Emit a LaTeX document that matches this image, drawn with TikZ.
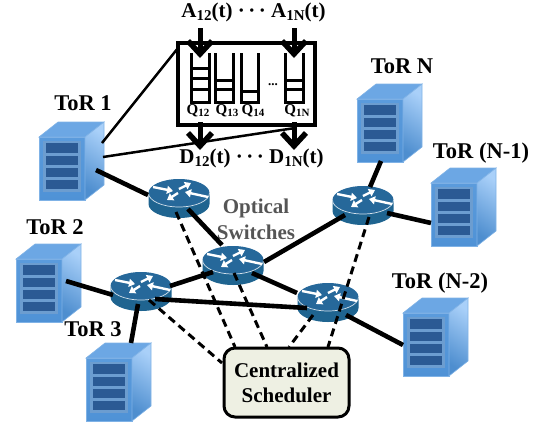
\documentclass[tikz,border=0pt]{standalone}
\usepackage{fontspec}
\setmainfont{Liberation Serif}
\usetikzlibrary{arrows.meta}
\definecolor{srvfront}{HTML}{5B9BDC}
\definecolor{srvfrontb}{HTML}{4F92D6}
\definecolor{srvtop}{HTML}{6CA7E4}
\definecolor{srvsidea}{HTML}{A9D0F9}
\definecolor{srvsideb}{HTML}{4E8ECF}
\definecolor{srvedge}{HTML}{7FB2E6}
\definecolor{srvpanel}{HTML}{6C9DD0}
\definecolor{srvslot}{HTML}{2B5A94}
\definecolor{rtrtop}{HTML}{26689A}
\definecolor{rtrbody}{HTML}{1F6490}
\definecolor{schedfill}{HTML}{EEF0E3}
\definecolor{optgrey}{HTML}{555555}
\newcommand{\sbs}[1]{\raisebox{-0.32ex}{\fontsize{15}{15}\selectfont #1}}
\newcommand{\qsbs}[1]{\raisebox{-0.35ex}{\fontsize{11}{10}\selectfont #1}}
\newcommand{\serverat}[3]{%
  \begin{scope}[shift={(#2,#3)}]
    \node[hitbox,minimum width=65pt,minimum height=78pt] (#1) at (32.5,24) {};
    \shade[top color=srvfront,bottom color=srvfrontb,draw=srvedge,line width=.6pt] (0,0) rectangle (46,63);
    \fill[srvtop,draw=srvedge,line width=.6pt] (0,0) -- (19,-15) -- (65,-15) -- (46,0) -- cycle;
    \shade[top color=srvsidea,bottom color=srvsideb,shading angle=-35,draw=srvedge,line width=.6pt] (46,0) -- (65,-15) -- (65,48) -- (46,63) -- cycle;
    \fill[srvpanel] (4,4) rectangle (42,55);
    \fill[srvslot] (7,6) rectangle (39,16);
    \fill[srvslot] (7,19) rectangle (39,28);
    \fill[srvslot] (7,31) rectangle (39,40);
    \fill[srvslot] (7,43) rectangle (39,52);
  \end{scope}}
\newcommand{\routerat}[3]{%
  \begin{scope}[shift={(#2,#3)}]
    \node[hitbox,minimum width=61pt,minimum height=39pt] (#1) at (0,5.5) {};
    \fill[rtrbody] (-30.5,0) -- (-30.5,11) arc[x radius=30.5,y radius=14,start angle=180,end angle=0] -- (30.5,0) -- cycle;
    \fill[rtrtop] (0,0) ellipse[x radius=30.5,y radius=14];
    \draw[white!80!rtrtop,line width=.7pt] (-30.5,0) arc[x radius=30.5,y radius=14,start angle=180,end angle=0];
    \draw[rtrarrow] (-26,-6) -- (-6,-2);
    \draw[rtrarrow] (0,-4) -- (12,-10);
    \draw[rtrarrow] (29,4) -- (6,-1);
    \draw[rtrarrow] (-1,0) -- (-12,7);
  \end{scope}}
\tikzset{
  x=1pt,y=-1pt,
  hitbox/.style={rectangle,inner sep=0pt,outer sep=0pt},
  rtrarrow/.style={white,line width=2.4pt,-{Triangle[length=6pt,width=8pt]}},
  torlabel/.style={font=\fontsize{22.5}{24}\selectfont\bfseries,inner sep=0pt},
  optlabel/.style={font=\fontsize{21}{26}\selectfont\bfseries,text=optgrey,inner sep=0pt,align=center},
  rowlabel/.style={font=\fontsize{21}{22}\selectfont\bfseries,inner sep=0pt,anchor=base},
  qlabel/.style={font=\fontsize{15}{16}\selectfont\bfseries,inner sep=0pt,anchor=base},
  thickline/.style={line width=4.6pt},
  thinline/.style={line width=2.5pt},
  schedline/.style={line width=3pt,dash pattern=on 8pt off 5pt},
  bigarrow/.style={line width=5pt,-{Straight Barb[length=13pt,width=24pt,line width=5.5pt]}},
  queuewall/.style={line width=3pt},
  queuebar/.style={line width=3pt},
  schedbox/.style={draw=black,line width=3pt,fill=schedfill,rounded corners=11pt,minimum width=125pt,minimum height=69pt,inner sep=0pt,align=center,font=\fontsize{21}{25}\selectfont\bfseries}
}
\begin{document}
\begin{tikzpicture}
\useasboundingbox (0,0) rectangle (547,424);
% servers
\serverat{tor1}{39}{137}
\serverat{tor2}{16}{259}
\serverat{tor3}{86}{358}
\serverat{torN}{357}{99}
\serverat{torNa}{431}{183}
\serverat{torNb}{403}{313}
% routers
\routerat{r1}{179}{193}
\routerat{rc}{233}{260}
\routerat{rl}{141}{286}
\routerat{rr}{328}{297}
\routerat{rt}{363}{200}
% labels of servers
\node[torlabel] (ltor1) at (83,103) {ToR 1};
\node[torlabel] (ltor2) at (55,227) {ToR 2};
\node[torlabel] (ltor3) at (93,329) {ToR 3};
\node[torlabel] (ltorN) at (402,66) {ToR N};
\node[torlabel] (ltorNa) at (481,153) {ToR (N-1)};
\node[torlabel] (ltorNb) at (440,283) {ToR (N-2)};
\node[optlabel] (optical) at (256,219) {Optical\\Switches};
% scheduler
\node[schedbox] (sched) at (286.5,382.5) {Centralized\\Scheduler};
% queue box
\node[hitbox,draw=black,line width=4.6pt,minimum width=137pt,minimum height=82pt] (qbox) at (246.5,84) {};
% queues
\begin{scope}
\draw[queuewall] (191,53) -- (191,102) -- (209,102) -- (209,53);
\draw[queuebar] (191,68) -- (209,68) (191,78) -- (209,78) (191,89) -- (209,89);
\draw[queuewall] (215,53) -- (215,102) -- (233,102) -- (233,53);
\draw[queuebar] (215,80) -- (233,80) (215,89) -- (233,89);
\draw[queuewall] (241,53) -- (241,102) -- (258,102) -- (258,53);
\draw[queuebar] (241,91) -- (258,91);
\draw[queuewall] (285,53) -- (285,102) -- (303,102) -- (303,53);
\draw[queuebar] (285,80) -- (303,80) (285,89) -- (303,89);
\end{scope}
\node[font=\fontsize{13}{13}\selectfont\bfseries,inner sep=0pt] (qdots) at (273,85) {...};
\node[qlabel] (q12) at (198,114) {Q\qsbs{12}};
\node[qlabel] (q13) at (227,114) {Q\qsbs{13}};
\node[qlabel] (q14) at (253,114) {Q\qsbs{14}};
\node[qlabel] (q1n) at (297,114) {Q\qsbs{1N}};
% A and D rows
\node[rowlabel] (arow) at (253.5,17) {A\sbs{12}(t) ·\,·\,· A\sbs{1N}(t)};
\node[rowlabel] (drow) at (251.5,163) {D\sbs{12}(t) ·\,·\,· D\sbs{1N}(t)};
% connectors
\draw[thickline] ([shift={(24.5,9)}]tor1.center) -- ([shift={(-31,-3.5)}]r1.center);
\draw[thickline] ([shift={(9,10.5)}]r1.center) -- ([shift={(-11,-20.5)}]rc.center);
\draw[thickline] ([shift={(29,-5.5)}]rl.center) -- ([shift={(-20,6.5)}]rc.center);
\draw[thickline] ([shift={(19,7.5)}]rc.center) -- ([shift={(-31,-9.5)}]rr.center);
\draw[thickline] ([shift={(14,7.5)}]rl.center) -- ([shift={(-21,5.5)}]rr.center);
\draw[thickline] ([shift={(31,-3.5)}]rc.center) -- ([shift={(-18,9.5)}]rt.center);
\draw[thickline] ([shift={(-8.5,38)}]torN.center) -- ([shift={(7,-18.5)}]rt.center);
\draw[thickline] ([shift={(24,7.5)}]rt.center) -- ([shift={(-32.5,16)}]torNa.center);
\draw[thickline] ([shift={(18,12.5)}]rr.center) -- ([shift={(-32.5,8)}]torNb.center);
\draw[thickline] ([shift={(17.5,-2)}]tor2.center) -- ([shift={(-28,3.5)}]rl.center);
\draw[thickline] ([shift={(-3,12.5)}]rl.center) -- ([shift={(12.5,-39)}]tor3.center);
\draw[schedline] ([shift={(-3,13.5)}]r1.center) -- ([shift={(-51.5,-35.5)}]sched.center);
\draw[schedline] ([shift={(1,7.5)}]rc.center) -- ([shift={(-19.5,-35.5)}]sched.center);
\draw[schedline] ([shift={(8,8.5)}]rl.center) -- ([shift={(-64.5,-19.5)}]sched.center);
\draw[schedline] ([shift={(-15,12.5)}]rr.center) -- ([shift={(2.5,-35.5)}]sched.center);
\draw[schedline] ([shift={(6,11.5)}]rt.center) -- ([shift={(41.5,-35.5)}]sched.center);
\draw[thinline] ([shift={(30.5,-18)}]tor1.center) -- ([shift={(0,5)}]qbox.north west);
\draw[thinline] ([shift={(31.5,-4)}]tor1.center) -- ([shift={(48.5,44)}]qbox.center);
\draw[bigarrow] (200,28) -- (200,58);
\draw[bigarrow] (294,28) -- (294,58);
\draw[bigarrow] (200,122) -- (200,150);
\draw[bigarrow] (294,122) -- (294,150);
\end{tikzpicture}
\end{document}
